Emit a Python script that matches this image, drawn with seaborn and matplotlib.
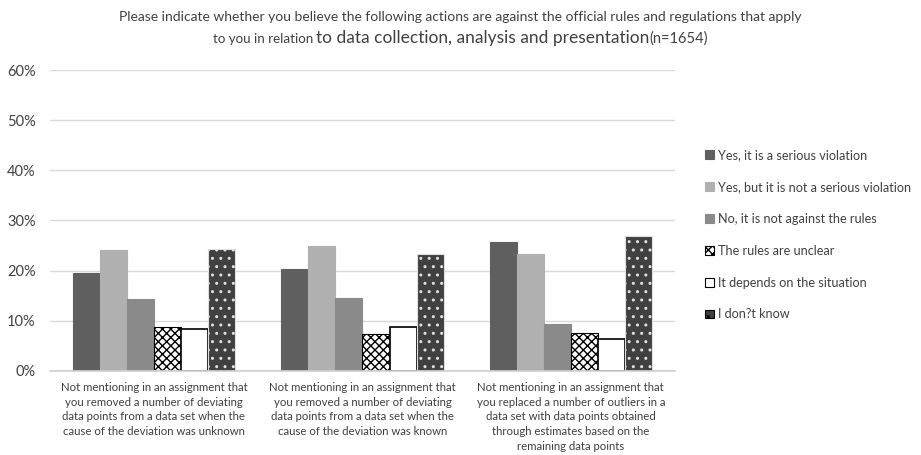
import pandas as pd
import matplotlib
matplotlib.use("Agg")
import matplotlib.pyplot as plt
import seaborn as sns
from matplotlib.patches import Patch

# data
categories = [
    "Not mentioning in an assignment that\nyou removed a number of deviating\ndata points from a data set when the\ncause of the deviation was unknown",
    "Not mentioning in an assignment that\nyou removed a number of deviating\ndata points from a data set when the\ncause of the deviation was known",
    "Not mentioning in an assignment that\nyou replaced a number of outliers in a\ndata set with data points obtained\nthrough estimates based on the\nremaining data points",
]
answers = [
    "Yes, it is a serious violation",
    "Yes, but it is not a serious violation",
    "No, it is not against the rules",
    "The rules are unclear",
    "It depends on the situation",
    "I don?t know",
]
serious = [19.5, 20.3, 25.8]
not_serious = [24.1, 24.9, 23.4]
not_against = [14.3, 14.5, 9.4]
unclear = [8.7, 7.3, 7.6]
depends = [8.3, 8.8, 6.4]
dont_know = [24.4, 23.4, 26.8]

series = [serious, not_serious, not_against, unclear, depends, dont_know]
rows = []
for ans, vals in zip(answers, series):
    for cat, v in zip(categories, vals):
        rows.append({"cat": cat, "answer": ans, "pct": v})
df = pd.DataFrame(rows)

sns.set_theme(style="white")
plt.rcParams['font.family'] = ['Lato', 'DejaVu Sans']
plt.rcParams['hatch.linewidth'] = 1.0

faces = ["#5f5f5f", "#b0b0b0", "#8a8a8a", "white", "white", "#404040"]
edges = ["#5f5f5f", "#b0b0b0", "#8a8a8a", "black", "black", "#e0e0e0"]
hatches = [None, None, None, "xxxx", None, ".."]
txt = "#404040"

fig = plt.figure(figsize=(9.21, 4.55), dpi=100)
ax = fig.add_axes([0.054, 0.185, 0.679, 0.661])
sns.barplot(data=df, x="cat", y="pct", hue="answer", hue_order=answers,
            palette=faces, width=0.78, ax=ax, legend=False, saturation=1)

for i, cont in enumerate(ax.containers):
    for p in cont:
        p.set_facecolor(faces[i])
        p.set_edgecolor(edges[i])
        p.set_linewidth(0.8 if i != 4 else 1.2)
        if hatches[i]:
            p.set_hatch(hatches[i])

ax.set_ylim(0, 60)
ax.set_yticks(range(0, 61, 10))
ax.set_yticklabels([f"{t}%" for t in range(0, 61, 10)], color=txt, fontsize=10.5)
ax.set_xlabel("")
ax.set_ylabel("")
ax.tick_params(axis="x", length=0, labelsize=8.2, labelcolor=txt, pad=8)
ax.tick_params(axis="y", length=0, pad=10)
for lbl in ax.get_xticklabels():
    lbl.set_linespacing(1.42)
ax.yaxis.grid(True, color="#d9d9d9", linewidth=1)
ax.set_axisbelow(True)
for s in ["top", "right", "left"]:
    ax.spines[s].set_visible(False)
ax.spines["bottom"].set_color("#d0d0d0")

# legend
handles = [Patch(facecolor=faces[i], edgecolor=edges[i] if i != 5 else "black",
                 hatch=hatches[i], linewidth=0.8) for i in range(6)]
fig.legend(handles, answers, loc="upper left", bbox_to_anchor=(0.753, 0.697),
           frameon=False, fontsize=9.1, handlelength=0.7, handleheight=0.7,
           handletextpad=0.35, labelspacing=1.57, labelcolor=txt)

# title: first line, then a second line with a larger middle part
fig.text(0.5, 0.962, "Please indicate whether you believe the following actions are against the official rules and regulations that apply",
         ha="center", va="center", fontsize=10.0, color=txt)
parts = [("to you in relation ", 9.6), ("to data collection, analysis and presentation", 12.5), ("(n=1654)", 10.5)]
renderer = fig.canvas.get_renderer()
pieces = [fig.text(0, 0.906, s, ha="left", va="baseline", fontsize=fs, color=txt) for s, fs in parts]
widths = [p.get_window_extent(renderer).width / fig.bbox.width for p in pieces]
x = 0.5 - sum(widths) / 2
for p, w in zip(pieces, widths):
    p.set_x(x)
    x += w

fig.savefig("out.png", dpi=100)
